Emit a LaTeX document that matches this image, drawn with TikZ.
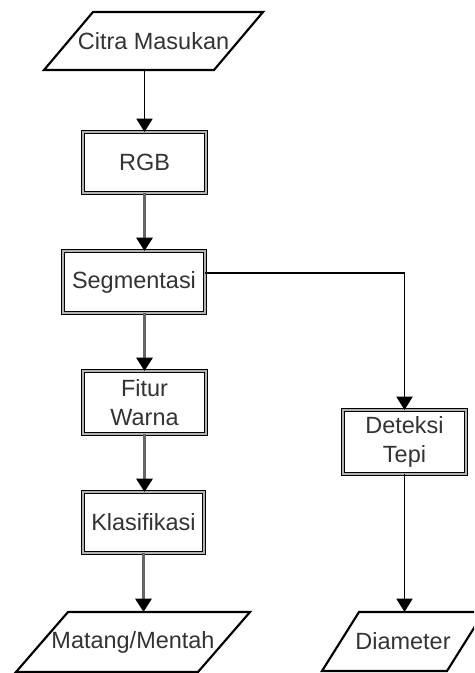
\documentclass[tikz,border=0pt]{standalone}
\usepackage{fontspec}
\setmainfont{Liberation Sans}
\usetikzlibrary{arrows.meta}
\begin{document}
\begin{tikzpicture}[x=0.75pt,y=-0.75pt,
  every node/.style={font=\fontsize{17.6pt}{22pt}\selectfont, text=black!80, align=center, inner sep=0pt, outer sep=0pt},
  box/.style={draw=black, line width=1pt, double=gray!60, double distance=0.8pt},
  para/.style={draw=black, line width=1.6pt, line join=miter},
  tip/.style={-{Triangle[length=10pt,width=12pt,color=black,fill=black]}},
  thinarrow/.style={tip, draw=black, line width=1.4pt},
  thickarrow/.style={tip, draw=black!60, line width=2.2pt}]
\clip (0,0) rectangle (474,673);
% nodes
\node[minimum width=164.25pt, minimum height=43.5pt] (citra) at (153.5,41) {Citra Masukan};
\node[box, minimum width=92.25pt, minimum height=45.75pt] (rgb) at (144.5,162.5) {RGB};
\node[box, minimum width=106.5pt, minimum height=46.5pt] (seg) at (134,282) {Segmentasi};
\node[box, minimum width=92.25pt, minimum height=47.25pt] (fitur) at (144.5,402.5) {Fitur\\Warna};
\node[box, minimum width=90.75pt, minimum height=45.75pt] (klas) at (143.5,522.5) {Klasifikasi};
\node[box, minimum width=92.25pt, minimum height=48pt] (det) at (404.5,442) {Deteksi\\Tepi};
\node[minimum width=175.5pt, minimum height=45pt] (matang) at (133,642) {Matang/Mentah};
\node[minimum width=121.5pt, minimum height=44.25pt] (diam) at (403,641.5) {Diameter};
% parallelograms
\draw[para] ([xshift=36.75pt]citra.north west) -- (citra.north east) -- ([xshift=-36.75pt]citra.south east) -- (citra.south west) -- cycle;
\draw[para] ([xshift=39pt]matang.north west) -- (matang.north east) -- ([xshift=-39pt]matang.south east) -- (matang.south west) -- cycle;
\draw[para] ([xshift=27.75pt]diam.north west) -- (diam.north east) -- ([xshift=-27.75pt]diam.south east) -- (diam.south west) -- cycle;
% connectors
\draw[thinarrow] (rgb.north |- citra.south) -- (rgb.north);
\draw[thickarrow] (rgb.south) -- (rgb.south |- seg.north);
\draw[thickarrow] (fitur.north |- seg.south) -- (fitur.north);
\draw[thickarrow] (fitur.south) -- (fitur.south |- klas.north);
\draw[thickarrow] (klas.south) -- (klas.south |- matang.north);
\draw[thinarrow] ([yshift=6.75pt]seg.east) -| (det.north);
\draw[thinarrow] (det.south) -- (det.south |- diam.north);
\end{tikzpicture}
\end{document}
